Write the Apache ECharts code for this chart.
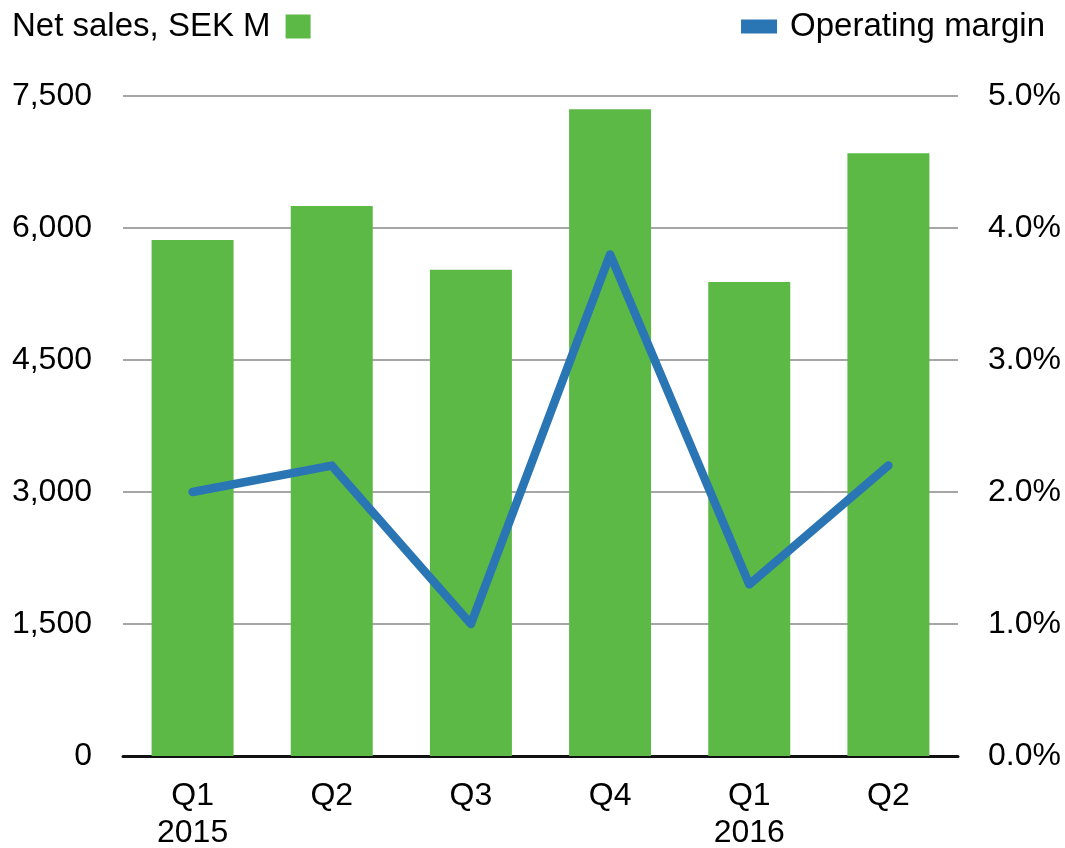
<!DOCTYPE html>
<html>
<head>
<meta charset="utf-8">
<title>Net sales and operating margin</title>
<script src="https://cdn.jsdelivr.net/npm/echarts@6/dist/echarts.min.js"></script>
<style>
  html, body { margin: 0; padding: 0; background: #ffffff; }
  #chart { width: 1065px; height: 848px; }
</style>
</head>
<body>
<div id="chart"></div>
<script>
// Quarterly figures
const quarters = ['Q1', 'Q2', 'Q3', 'Q4', 'Q1', 'Q2'];
const years = ['2015', '', '', '', '2016', ''];
const netSales = [5865, 6250, 5525, 7350, 5385, 6850];          // SEK M
const operatingMargin = [2.0, 2.2, 1.0, 3.8, 1.3, 2.2];          // %
const salesTicks = { min: 0, max: 7500, interval: 1500 };
const marginTicks = { min: 0, max: 5, interval: 1 };

const categories = quarters.map((q, i) => years[i] ? q + '\n' + years[i] : q);

const FONT = '"Liberation Sans", Arial, Helvetica, sans-serif';
const GREEN = '#5db946';
const BLUE = '#2a75b3';

const chart = echarts.init(document.getElementById('chart'), null, { renderer: 'canvas' });

chart.setOption({
  backgroundColor: '#ffffff',
  animation: false,
  textStyle: { fontFamily: FONT, color: '#000000' },
  legend: [
    {
      data: ['Net sales, SEK M'],
      left: 12,
      top: 10,
      align: 'right',
      icon: 'rect',
      itemWidth: 25,
      itemHeight: 24,
      padding: 0,
      textStyle: { fontFamily: FONT, fontSize: 33, color: '#000000', padding: [0, 10, 0, 0] }
    },
    {
      data: ['Operating margin'],
      right: 20,
      top: 10,
      align: 'left',
      icon: 'rect',
      itemWidth: 36,
      itemHeight: 14,
      padding: 0,
      textStyle: { fontFamily: FONT, fontSize: 33, color: '#000000', padding: [0, 0, 0, 8] }
    }
  ],
  grid: {
    left: 123, right: 107, top: 96, bottom: 92,
    containLabel: false,
    outerBoundsMode: 'none'
  },
  xAxis: {
    type: 'category',
    data: categories,
    axisLine: { show: true, lineStyle: { color: '#111111', width: 3 } },
    axisTick: { show: false },
    axisLabel: {
      margin: 22,
      fontFamily: FONT,
      fontSize: 32,
      color: '#000000',
      lineHeight: 37
    }
  },
  yAxis: [
    {
      type: 'value',
      min: salesTicks.min,
      max: salesTicks.max,
      interval: salesTicks.interval,
      axisLine: { show: false },
      axisTick: { show: false },
      splitLine: { show: true, lineStyle: { color: '#a6a6a6', width: 2 } },
      axisLabel: {
        margin: 31,
        fontFamily: FONT,
        fontSize: 32,
        color: '#000000',
        formatter: v => v.toLocaleString('en-US')
      }
    },
    {
      type: 'value',
      min: marginTicks.min,
      max: marginTicks.max,
      interval: marginTicks.interval,
      axisLine: { show: false },
      axisTick: { show: false },
      splitLine: { show: false },
      axisLabel: {
        margin: 30,
        fontFamily: FONT,
        fontSize: 32,
        color: '#000000',
        formatter: v => v.toFixed(1) + '%'
      }
    }
  ],
  series: [
    {
      name: 'Net sales, SEK M',
      type: 'bar',
      yAxisIndex: 0,
      data: netSales,
      barWidth: 82,
      itemStyle: { color: GREEN },
      z: 2
    },
    {
      name: 'Operating margin',
      type: 'line',
      yAxisIndex: 1,
      data: operatingMargin,
      showSymbol: false,
      symbol: 'none',
      itemStyle: { color: BLUE },
      lineStyle: { color: BLUE, width: 8.5, cap: 'round', join: 'round' },
      z: 3
    }
  ]
});
</script>
</body>
</html>
